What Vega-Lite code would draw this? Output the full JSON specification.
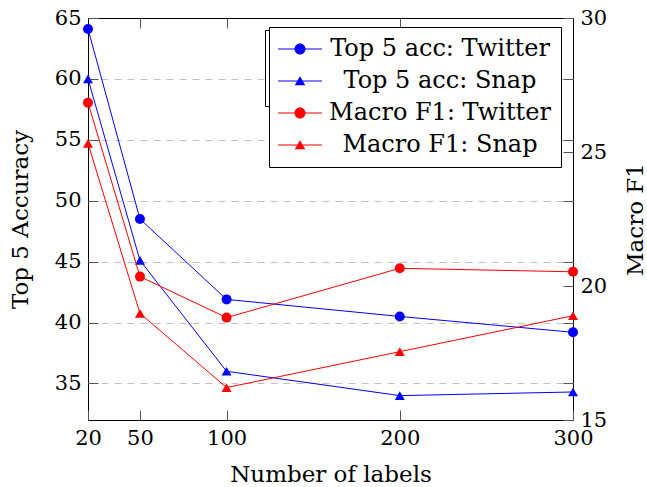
{
  "$schema": "https://vega.github.io/schema/vega-lite/v6.json",
  "width": 485,
  "height": 402,
  "autosize": {"type": "none"},
  "padding": {"left": 88, "top": 18, "right": 74, "bottom": 67},
  "background": "white",
  "config": {
    "font": "DejaVu Serif",
    "view": {"stroke": "black", "strokeWidth": 1},
    "axis": {
      "labelFont": "DejaVu Serif", "labelFontSize": 21, "labelColor": "black",
      "titleFont": "DejaVu Serif", "titleFontSize": 23, "titleFontWeight": "normal", "titleColor": "black",
      "domain": false, "grid": false, "tickColor": "#555555", "tickWidth": 1, "tickSize": -10,
      "labelPadding": 17, "labelOverlap": false, "labelFlush": false
    }
  },
  "datasets": {
    "acc": [
      {"n": 20, "v": 64.1, "s": "Top 5 acc: Twitter", "d": "Twitter"},
      {"n": 50, "v": 48.5, "s": "Top 5 acc: Twitter", "d": "Twitter"},
      {"n": 100, "v": 41.9, "s": "Top 5 acc: Twitter", "d": "Twitter"},
      {"n": 200, "v": 40.5, "s": "Top 5 acc: Twitter", "d": "Twitter"},
      {"n": 300, "v": 39.2, "s": "Top 5 acc: Twitter", "d": "Twitter"},
      {"n": 20, "v": 60.0, "s": "Top 5 acc: Snap", "d": "Snap"},
      {"n": 50, "v": 45.1, "s": "Top 5 acc: Snap", "d": "Snap"},
      {"n": 100, "v": 36.0, "s": "Top 5 acc: Snap", "d": "Snap"},
      {"n": 200, "v": 34.0, "s": "Top 5 acc: Snap", "d": "Snap"},
      {"n": 300, "v": 34.3, "s": "Top 5 acc: Snap", "d": "Snap"}
    ],
    "f1": [
      {"n": 20, "v": 26.84, "s": "Macro F1: Twitter", "d": "Twitter"},
      {"n": 50, "v": 20.35, "s": "Macro F1: Twitter", "d": "Twitter"},
      {"n": 100, "v": 18.82, "s": "Macro F1: Twitter", "d": "Twitter"},
      {"n": 200, "v": 20.66, "s": "Macro F1: Twitter", "d": "Twitter"},
      {"n": 300, "v": 20.53, "s": "Macro F1: Twitter", "d": "Twitter"},
      {"n": 20, "v": 25.32, "s": "Macro F1: Snap", "d": "Snap"},
      {"n": 50, "v": 18.98, "s": "Macro F1: Snap", "d": "Snap"},
      {"n": 100, "v": 16.21, "s": "Macro F1: Snap", "d": "Snap"},
      {"n": 200, "v": 17.55, "s": "Macro F1: Snap", "d": "Snap"},
      {"n": 300, "v": 18.89, "s": "Macro F1: Snap", "d": "Snap"}
    ]
  },
  "encoding": {
    "color": {
      "field": "s", "type": "nominal",
      "scale": {
        "domain": ["Top 5 acc: Twitter", "Top 5 acc: Snap", "Macro F1: Twitter", "Macro F1: Snap"],
        "range": ["#0000ff", "#0000ff", "#ff0000", "#ff0000"]
      },
      "legend": {
        "title": null, "orient": "none", "legendX": 181, "legendY": 9, "zindex": 2,
        "fillColor": "white", "strokeColor": "black", "padding": 10,
        "labelFont": "DejaVu Serif", "labelFontSize": 24, "labelColor": "black", "labelLimit": 500,
        "labelAlign": "center", "labelOffset": 128, "symbolOffset": 9, "rowPadding": 8, "symbolSize": 100,
        "encode": {
          "symbols": {
            "update": {
              "shape": {"signal": "indexof(datum.value, 'Snap') >= 0 ? 'M-4.4,-0.1H4.4V0.1H-4.4ZM0,-0.95L1.05,0.85L-1.05,0.85Z' : 'M-4.4,-0.1H4.4V0.1H-4.4ZM1.1,0A1.1,1.1,0,1,1,-1.1,0A1.1,1.1,0,1,1,1.1,0Z'"},
              "fill": {"signal": "indexof(datum.value, 'Top') >= 0 ? '#0000ff' : '#ff0000'"},
              "strokeWidth": {"value": 0},
              "opacity": {"value": 1},
              "size": {"value": 100}
            }
          }
        }
      }
    }
  },
  "layer": [
    {
      "data": {"name": "acc"},
      "encoding": {
        "x": {
          "field": "n", "type": "quantitative",
          "scale": {"domain": [20, 300], "nice": false, "zero": false},
          "axis": {"orient": "bottom", "values": [20, 50, 100, 200, 300], "title": "Number of labels", "titlePadding": 15}
        }
      },
      "layer": [
        {
          "mark": {"type": "line", "strokeWidth": 1},
          "encoding": {
            "y": {
              "field": "v", "type": "quantitative",
              "scale": {"domain": [32, 65], "nice": false, "zero": false},
              "axis": {
                "orient": "left", "values": [35, 40, 45, 50, 55, 60, 65], "title": "Top 5 Accuracy", "titlePadding": 22,
                "grid": true, "gridDash": [7, 6], "gridColor": "#c0c0c0", "gridWidth": 1,
                "gridOpacity": {"condition": {"test": "datum.value >= 65", "value": 0}, "value": 1}
              }
            }
          }
        },
        {
          "mark": {"type": "point", "filled": true, "opacity": 1, "size": 100},
          "encoding": {
            "y": {
              "field": "v", "type": "quantitative",
              "scale": {"domain": [32, 65], "nice": false, "zero": false},
              "axis": {"orient": "right", "values": [35, 40, 45, 50, 55, 60], "labels": false, "title": null, "grid": false}
            },
            "shape": {
              "field": "d", "type": "nominal", "scale": {"domain": ["Twitter", "Snap"], "range": ["circle", "triangle-up"]},
              "legend": {"title": null, "orient": "none", "legendX": 177, "legendY": 12, "zindex": 1, "values": ["Twitter"], "labelExpr": "''", "fillColor": "white", "strokeColor": "black", "padding": 5, "symbolSize": 4356, "symbolOpacity": 0, "symbolStrokeWidth": 0, "labelOpacity": 0, "labelFontSize": 10}
            }
          }
        }
      ],
      "resolve": {"axis": {"y": "independent"}}
    },
    {
      "data": {"name": "f1"},
      "encoding": {
        "x": {
          "field": "n", "type": "quantitative",
          "scale": {"domain": [20, 300], "nice": false, "zero": false},
          "axis": {"orient": "top", "values": [50, 100, 200], "labels": false, "title": null}
        },
        "y": {
          "field": "v", "type": "quantitative",
          "scale": {"domain": [15, 30], "nice": false, "zero": false},
          "axis": {"orient": "right", "values": [15, 20, 25, 30], "title": "Macro F1", "titleAngle": 270, "titleBaseline": "top", "titlePadding": 18}
        }
      },
      "layer": [
        {"mark": {"type": "line", "strokeWidth": 1}},
        {
          "mark": {"type": "point", "filled": true, "opacity": 1, "size": 100},
          "encoding": {
            "shape": {
              "field": "d", "type": "nominal", "scale": {"domain": ["Twitter", "Snap"], "range": ["circle", "triangle-up"]},
              "legend": {"title": null, "orient": "none", "legendX": 177, "legendY": 12, "zindex": 1, "values": ["Twitter"], "labelExpr": "''", "fillColor": "white", "strokeColor": "black", "padding": 5, "symbolSize": 4356, "symbolOpacity": 0, "symbolStrokeWidth": 0, "labelOpacity": 0, "labelFontSize": 10}
            }
          }
        }
      ]
    }
  ],
  "resolve": {"scale": {"y": "independent"}, "axis": {"x": "independent", "y": "independent"}}
}
